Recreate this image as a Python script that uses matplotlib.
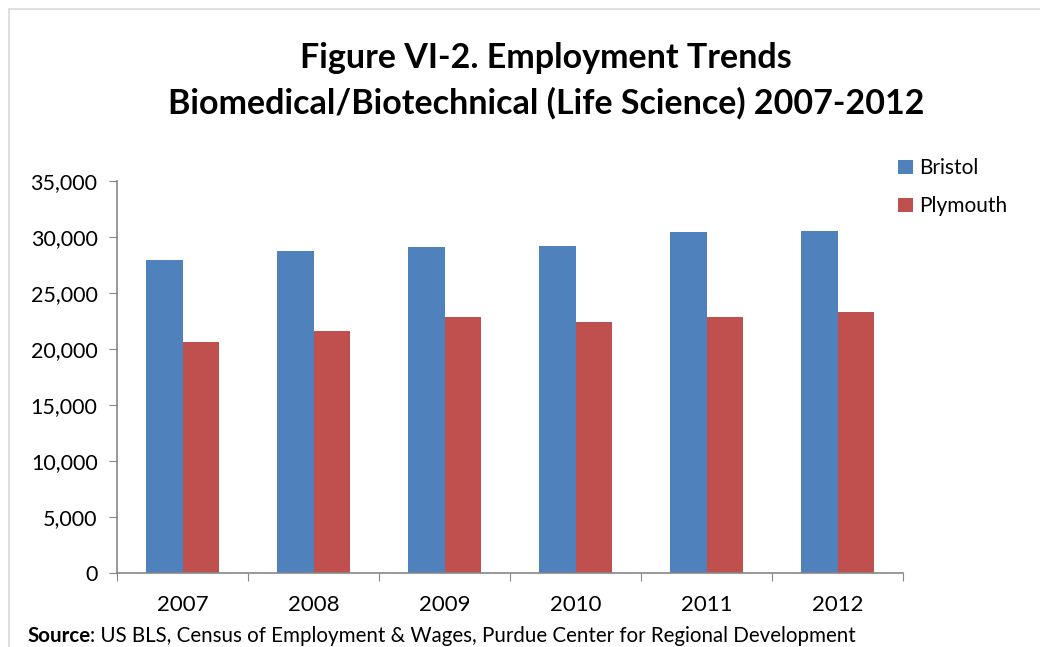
import matplotlib
matplotlib.use('Agg')
import matplotlib.pyplot as plt
import numpy as np
from matplotlib.patches import Rectangle

plt.rcParams['font.family'] = ['Lato', 'DejaVu Sans']

years = ['2007', '2008', '2009', '2010', '2011', '2012']
bristol = [27900, 28700, 29100, 29200, 30400, 30500]
plymouth = [20600, 21600, 22850, 22400, 22850, 23300]

blue = '#4F81BD'
red = '#C0504D'
axis_grey = '#868686'

fig = plt.figure(figsize=(10.4, 6.47), dpi=100)
ax = fig.add_axes([0.1125, 0.1144, 0.756, 0.606])

x = np.arange(len(years))
w = 0.28
ax.bar(x - w / 2, bristol, w, color=blue, label='Bristol')
ax.bar(x + w / 2, plymouth, w, color=red, label='Plymouth')

ax.set_xlim(-0.5, len(years) - 0.5)
ax.set_ylim(0, 35000)
ax.set_yticks(range(0, 35001, 5000))
ax.set_yticklabels([f'{v:,}' for v in range(0, 35001, 5000)], fontsize=15.5)

# category labels centred, tick marks on the boundaries
ax.set_xticks(np.arange(-0.5, len(years), 1))
ax.set_xticklabels([])
ax.set_xticks(x, minor=True)
ax.set_xticklabels(years, minor=True, fontsize=16)
ax.tick_params(axis='x', which='minor', length=0, pad=16)
ax.tick_params(axis='x', which='major', length=6, color=axis_grey, direction='out')
ax.tick_params(axis='y', length=6, color=axis_grey, direction='out', pad=8)

for s in ['top', 'right']:
    ax.spines[s].set_visible(False)
for s in ['left', 'bottom']:
    ax.spines[s].set_color(axis_grey)
    ax.spines[s].set_linewidth(1.2)

ax.legend(loc='upper left', bbox_to_anchor=(0.97, 1.105), frameon=False, fontsize=15,
          handlelength=0.7, handleheight=0.7, handletextpad=0.3, labelspacing=0.85)

fig.text(0.525, 0.91, 'Figure VI-2. Employment Trends', ha='center', va='center',
         fontsize=24.5, fontweight='bold')
fig.text(0.525, 0.84, 'Biomedical/Biotechnical (Life Science) 2007-2012', ha='center',
         va='center', fontsize=24.5, fontweight='bold')

# outer chart frame
fig.patches.append(Rectangle((0.009, -0.05), 1.1, 1.036, transform=fig.transFigure,
                             fill=False, edgecolor='#D9D9D9', linewidth=1.2))

src = fig.text(0.026, 0.008, 'Source', fontsize=14.8, fontweight='bold', va='baseline')
fig.canvas.draw()
bb = src.get_window_extent(fig.canvas.get_renderer())
fig.text(bb.x1 / fig.bbox.width, 0.008,
         ': US BLS, Census of Employment & Wages, Purdue Center for Regional Development',
         fontsize=14.8, va='baseline')

fig.savefig('out.png', dpi=100)
